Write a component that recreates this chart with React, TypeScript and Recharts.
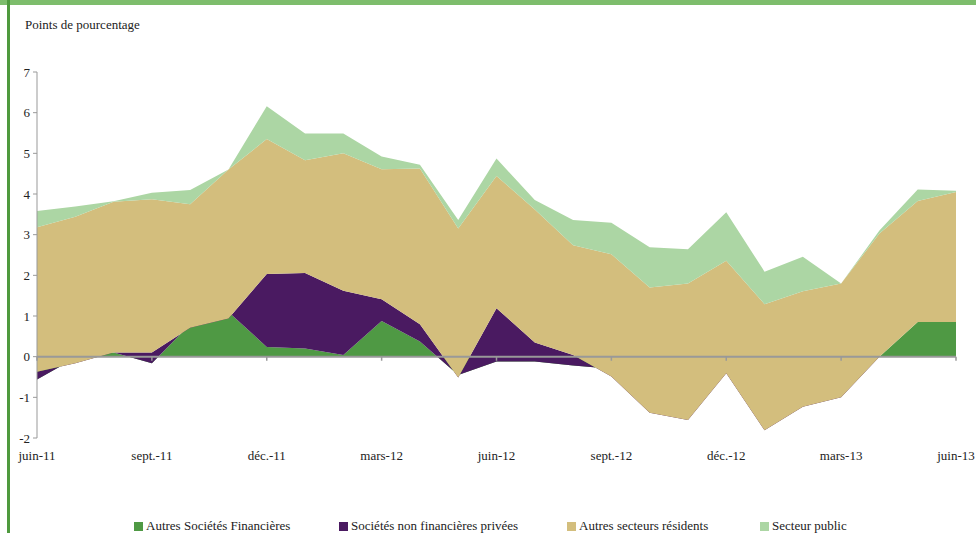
import { Area, AreaChart, ReferenceLine, XAxis, YAxis } from "recharts";

// months, jun-11 to jun-13
const months = [
  "juin-11", "juil.-11", "août-11", "sept.-11", "oct.-11", "nov.-11", "déc.-11",
  "janv.-12", "févr.-12", "mars-12", "avr.-12", "mai-12", "juin-12",
  "juil.-12", "août-12", "sept.-12", "oct.-12", "nov.-12", "déc.-12",
  "janv.-13", "févr.-13", "mars-13", "avr.-13", "mai-13", "juin-13",
];

// contributions, points de pourcentage (plain stacking, like the Excel original)
const autresSocFin = [
  -0.56, -0.03, 0.1, -0.16, 0.8, 1.1, 0.24, 0.2, 0.04, 0.88, 0.37, -0.45, -0.12,
  -0.12, -0.22, -0.3, 0, 0, 0, 0, 0, 0, 0, 0.85, 0.85,
];
const socNonFin = [
  0.19, -0.13, 0, 0.26, -0.09, -0.16, 1.79, 1.86, 1.58, 0.53, 0.43, -0.06, 1.31,
  0.47, 0.26, -0.19, -1.38, -1.56, -0.41, -1.81, -1.23, -1.0, 0, 0, 0,
];
const autresResidents = [
  3.55, 3.6, 3.71, 3.77, 3.04, 3.66, 3.32, 2.77, 3.38, 3.2, 3.83, 3.66, 3.25,
  3.27, 2.7, 3.01, 3.08, 3.36, 2.77, 3.1, 2.84, 2.8, 3.03, 2.98, 3.2,
];
const secteurPublic = [
  0.4, 0.25, 0.01, 0.16, 0.35, 0, 0.81, 0.66, 0.49, 0.31, 0.09, 0.21, 0.43,
  0.23, 0.62, 0.77, 0.99, 0.84, 1.19, 0.8, 0.85, 0, 0.07, 0.28, 0.03,
];

const yTicks = [-2, -1, 0, 1, 2, 3, 4, 5, 6, 7];
const quarterMonths = months.filter((_, i) => i % 3 === 0);

const series = [
  { key: "asf", name: "Autres Sociétés Financières", color: "#4f9944", values: autresSocFin },
  { key: "snf", name: "Sociétés non financières privées", color: "#4a1a61", values: socNonFin },
  { key: "asr", name: "Autres secteurs résidents", color: "#d3be7d", values: autresResidents },
  { key: "sp", name: "Secteur public", color: "#acd6a4", values: secteurPublic },
];

const data = months.map((m, i) => ({
  month: m,
  asf: autresSocFin[i],
  snf: socNonFin[i],
  asr: autresResidents[i],
  sp: secteurPublic[i],
}));

const FONT = "'Times New Roman', 'Liberation Serif', serif";
const legendX = [134, 339, 567, 760];

export default function App() {
  return (
    <div
      style={{
        position: "absolute",
        left: 0,
        top: 0,
        width: 976,
        height: 533,
        background: "#fff",
        fontFamily: FONT,
        overflow: "hidden",
      }}
    >
      <div style={{ position: "absolute", left: 0, top: 0, width: 976, height: 5, background: "#7dbd6c" }} />
      <div style={{ position: "absolute", left: 7, top: 0, width: 2.5, height: 533, background: "#4f9a3e" }} />
      <div style={{ position: "absolute", left: 25, top: 17, fontSize: 13, color: "#222" }}>
        Points de pourcentage
      </div>

      <AreaChart
        width={976}
        height={533}
        data={data}
        margin={{ top: 72, right: 20, bottom: 65, left: 0 }}
        style={{ position: "absolute", left: 0, top: 0 }}
      >
        <XAxis
          dataKey="month"
          interval={2}
          axisLine={false}
          tickLine={false}
          tickMargin={7}
          height={30}
          tick={{ fontSize: 13, fill: "#222", fontFamily: FONT }}
        />
        <YAxis
          type="number"
          domain={[-2, 7]}
          ticks={yTicks}
          width={37}
          interval={0}
          stroke="#999"
          tickSize={4}
          tickMargin={3}
          tick={{ fontSize: 13, fill: "#222", fontFamily: FONT }}
        />
        {series.map((s) => (
          <Area
            key={s.key}
            dataKey={s.key}
            name={s.name}
            type="linear"
            stackId="1"
            stroke="none"
            fill={s.color}
            fillOpacity={1}
            dot={false}
            activeDot={false}
            isAnimationActive={false}
          />
        ))}
        <ReferenceLine y={0} stroke="#999" strokeWidth={2} />
        {quarterMonths.map((m) => (
          <ReferenceLine
            key={m}
            segment={[
              { x: m, y: 0 },
              { x: m, y: -0.1 },
            ]}
            stroke="#999"
            strokeWidth={1.5}
          />
        ))}
      </AreaChart>

      {series.map((s, i) => (
        <div
          key={s.key}
          style={{
            position: "absolute",
            left: legendX[i],
            top: 518,
            fontSize: 13,
            color: "#222",
            display: "flex",
            alignItems: "center",
            whiteSpace: "nowrap",
          }}
        >
          <span style={{ display: "inline-block", width: 9, height: 9, background: s.color, marginRight: 3 }} />
          {s.name}
        </div>
      ))}
    </div>
  );
}
